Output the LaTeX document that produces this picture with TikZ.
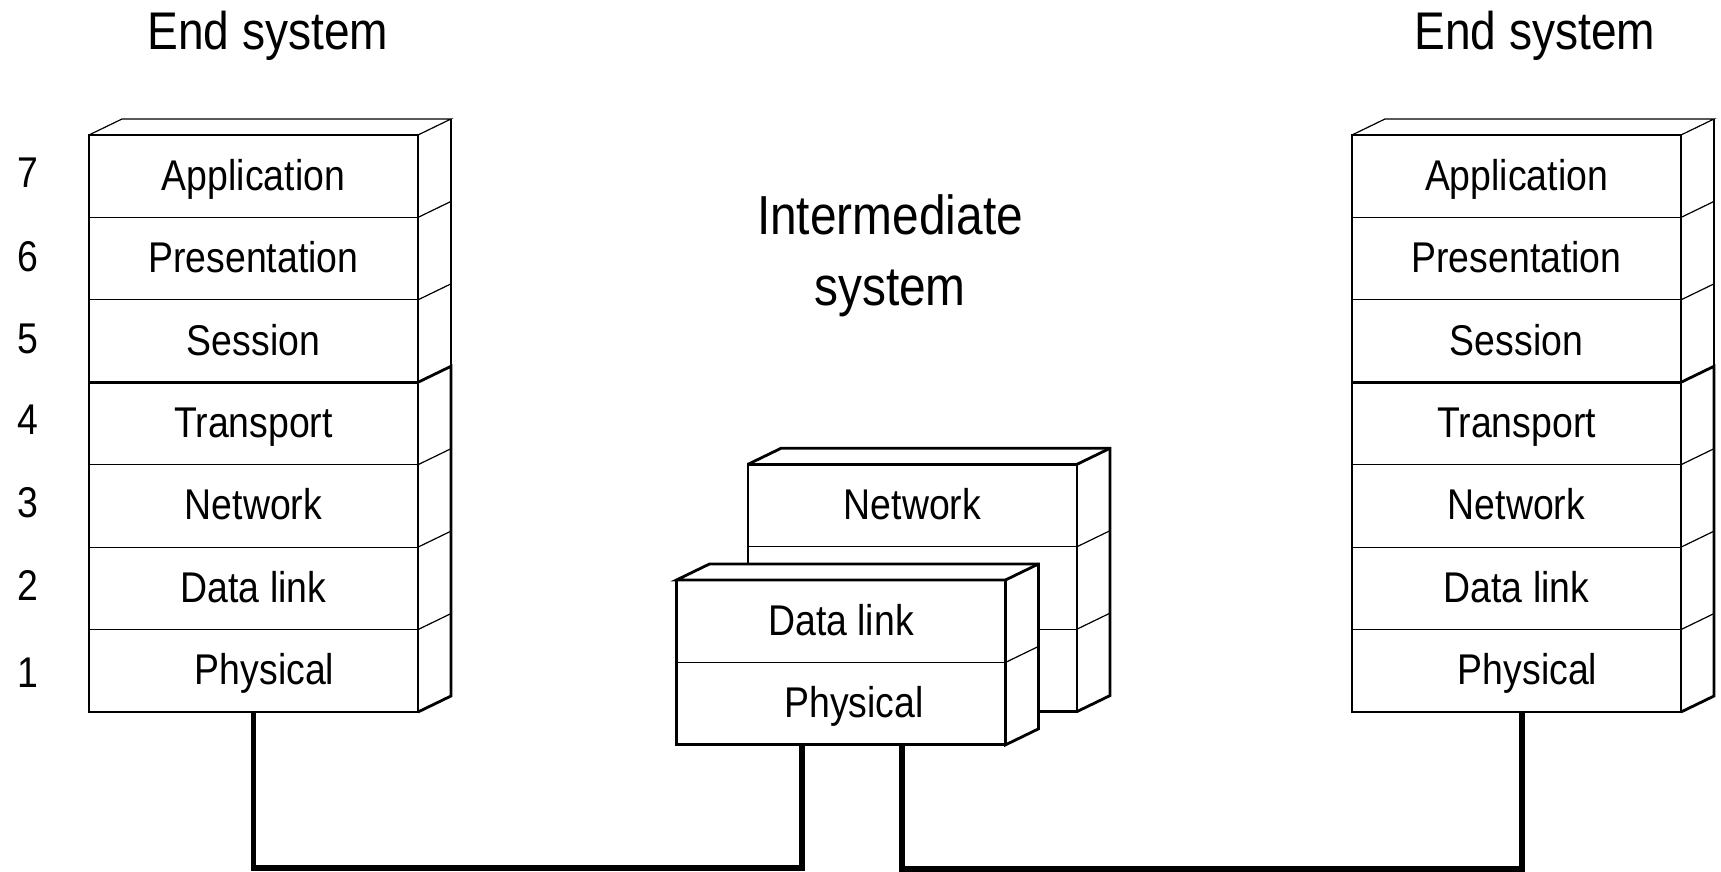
\documentclass[tikz,border=0pt]{standalone}
\usepackage{fontspec}
\setmainfont[FakeStretch=0.87]{Liberation Sans}
\usetikzlibrary{positioning}

\tikzset{
  layer/.style={draw, line width=1.2pt, fill=white, minimum width=329pt,
    minimum height=82.43pt, inner sep=0pt, outer sep=0pt,
    text height=28pt, text depth=0pt, font=\fontsize{43}{50}\selectfont},
  thin edge/.style={line width=1.2pt},
  thick edge/.style={line width=2.8pt},
  wire/.style={line width=5.5pt},
  title/.style={inner sep=0pt, font=\fontsize{53}{60}\selectfont},
  num/.style={inner sep=0pt, font=\fontsize{43}{50}\selectfont},
}

\begin{document}
\begin{tikzpicture}[x=1pt, y=-1pt]
  \useasboundingbox (0,0) rectangle (1721,872);

  % the two end systems
  \foreach \s/\cx in {a/253.5, b/1516.5} {
    \node[layer] (\s7) at (\cx,176.2) {Application};
    \node[layer, below=0pt of \s7] (\s6) {Presentation};
    \node[layer, below=0pt of \s6] (\s5) {Session};
    \node[layer, below=0pt of \s5] (\s4) {Transport};
    \node[layer, below=0pt of \s4] (\s3) {Network};
    \node[layer, below=0pt of \s3] (\s2) {Data link};
    \node[layer, below=0pt of \s2] (\s1) {\hspace{22pt}Physical};

    \draw[thin edge] (\s7.north west) -- ++(33,-16)
      -- ([shift={(33,-16)}]\s7.north east) -- (\s7.north east);
    \draw[thin edge] ([shift={(33,-16)}]\s7.north east)
      -- ([shift={(33,-16)}]\s4.north east);
    \foreach \r in {6,5,3,2,1}
      \draw[thin edge] (\s\r.north east) -- ++(33,-16);
    \draw[thick edge] (\s4.north east) -- ++(33,-16)
      -- ([shift={(33,-16)}]\s1.south east) -- (\s1.south east);
    \draw[thick edge] (\s4.north west) rectangle (\s1.south east);
  }

  % layer numbers
  \foreach \n/\y in {7/173, 6/257, 5/339, 4/420, 3/503, 2/585, 1/673}
    \node[num] (l\n) at (28,\y) {\n};

  % intermediate system, back box
  \node[layer] (n3) at (912.5,505.5) {Network};
  \node[layer, below=0pt of n3] (n2) {};
  \node[layer, below=0pt of n2] (n1) {};
  \draw[thick edge] (n3.north west) -- ++(33,-16)
    -- ([shift={(33,-16)}]n3.north east)
    -- ([shift={(33,-16)}]n1.south east) -- (n1.south east);
  \draw[thick edge] (n3.north east) -- ++(33,-16);
  \foreach \r in {2,1}
    \draw[thin edge] (n\r.north east) -- ++(33,-16);
  \draw[thick edge] (n3.north west) rectangle (n1.south east);

  % intermediate system, front box
  \node[layer] (d2) at (841,621.2) {Data link};
  \node[layer, below=0pt of d2] (d1) {\hspace{26pt}Physical};
  \filldraw[thick edge, fill=white] (d2.north west) -- ++(33,-16)
    -- ([shift={(33,-16)}]d2.north east)
    -- ([shift={(33,-16)}]d1.south east) -- (d1.south east)
    -- (d2.north east) -- cycle;
  \draw[thick edge] (d2.north east) -- ++(33,-16);
  \draw[thin edge] (d1.north east) -- ++(33,-16);
  \draw[thick edge] (d2.north west) rectangle (d1.south east);

  % titles
  \node[title, anchor=base] (es1) at (268,50) {End system};
  \node[title, anchor=base] (es2) at (1535,50) {End system};
  \node[title, align=center, anchor=north, font=\fontsize{55}{71}\selectfont]
    (is) at (890,194) {Intermediate\\system};

  % links
  \draw[wire] (a1.south) -- ++(0,156) -| ([xshift=-39pt]d1.south);
  \draw[wire] ([xshift=61pt]d1.south) -- ++(0,124) -| ([xshift=5.5pt]b1.south);
\end{tikzpicture}
\end{document}
